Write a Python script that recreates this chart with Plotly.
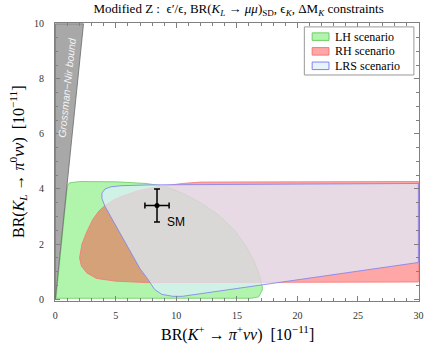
import plotly.graph_objects as go

# LH scenario region (green)
lh_x = [0.05, 0.98, 1.15, 2.0, 5.0, 7.5, 9.0, 10.5, 12.0, 13.5, 14.8, 15.8, 16.5, 16.95, 17.1, 17.1, 16.8, 16.2, 0.05]
lh_y = [0.03, 4.10, 4.22, 4.27, 4.26, 4.20, 4.10, 3.85, 3.50, 3.05, 2.50, 1.90, 1.30, 0.75, 0.45, 0.33, 0.08, 0.03, 0.03]

# RH scenario region (red)
rh_x = [2.0, 2.2, 2.6, 3.1, 3.6, 4.1, 4.8, 5.6, 6.7, 7.8, 9.1, 10.5, 12.0, 20.0, 30.0, 30.0, 20.0, 10.0, 7.5, 5.0, 3.4, 2.6, 2.15, 2.0]
rh_y = [1.5, 2.0, 2.45, 2.9, 3.2, 3.4, 3.6, 3.75, 3.92, 4.03, 4.12, 4.2, 4.25, 4.27, 4.27, 0.62, 0.6, 0.58, 0.6, 0.65, 0.75, 0.95, 1.2, 1.5]

# LRS scenario region (blue)
lrs_x = [4.6, 5.5, 8.0, 15.0, 30.0, 30.0, 17.1, 12.0, 10.5, 9.7, 8.8, 8.2, 7.6, 7.0, 4.1, 3.85, 3.85, 4.1, 4.6]
lrs_y = [4.08, 4.12, 4.15, 4.17, 4.20, 1.33, 0.51, 0.19, 0.10, 0.10, 0.17, 0.35, 0.75, 1.10, 3.37, 3.65, 3.85, 4.00, 4.08]

# Grossman-Nir bound: BR(KL) < 4.3 BR(K+)
gn_x = [0.0, 0.0, 10 / 4.3, 0.0]
gn_y = [0.0, 10.0, 10.0, 0.0]

# Standard Model point
sm_x, sm_y = [8.4], [3.4]
sm_ex, sm_ey = [1.0], [0.6]

scenarios = ["LH scenario", "RH scenario", "LRS scenario"]
fills = ["rgba(100,235,90,0.5)", "rgba(255,60,60,0.45)", "rgba(221,240,253,0.7)"]
edges = ["rgb(110,205,100)", "rgb(245,120,120)", "rgb(130,130,240)"]

serif = "Liberation Serif"

fig = go.Figure()
for xs, ys, name, fc, lc in zip([lh_x, rh_x, lrs_x], [lh_y, rh_y, lrs_y], scenarios, fills, edges):
    fig.add_trace(go.Scatter(x=xs, y=ys, fill="toself", mode="lines", name=name, showlegend=False,
                             fillcolor=fc, line=dict(color=lc, width=0.85), hoverinfo="skip"))
fig.add_trace(go.Scatter(x=gn_x, y=gn_y, fill="toself", mode="lines", showlegend=False,
                         fillcolor="#a8a8a8", line=dict(color="#6a6a6a", width=0.8), hoverinfo="skip"))
fig.add_trace(go.Scatter(x=sm_x, y=sm_y, mode="markers", showlegend=False,
                         marker=dict(color="black", size=5),
                         error_x=dict(type="data", array=sm_ex, color="black", thickness=1.5, width=3),
                         error_y=dict(type="data", array=sm_ey, color="black", thickness=1.5, width=3)))

fig.add_annotation(x=sm_x[0] + 1.55, y=sm_y[0] - 0.6, text="SM", showarrow=False,
                   font=dict(family="Liberation Sans", size=12, color="black"))
fig.add_annotation(x=0.95, y=7.7, text="<i>Grossman−Nir bound</i>", showarrow=False, textangle=-84,
                   font=dict(family="Liberation Sans", size=10.5, color="#f4f4f4"))

# axis titles
fig.add_annotation(xref="paper", yref="paper", x=0.5, y=0, yshift=-32, xanchor="center", yanchor="middle",
                   showarrow=False,
                   text="BR(<i>K</i><sup>+</sup> → <i>π</i><sup>+</sup><i>νν</i>)  [10<sup>−11</sup>]",
                   font=dict(family=serif, size=16, color="black"))
fig.add_annotation(xref="paper", yref="paper", x=0, y=0.5, xshift=-37, xanchor="center", yanchor="middle",
                   showarrow=False, textangle=-90,
                   text="BR(<i>K</i><sub><i>L</i></sub> → <i>π</i><sup>0</sup><i>νν</i>)  [10<sup>−11</sup>]",
                   font=dict(family=serif, size=16, color="black"))

# legend box drawn by hand (Mathematica-style compact legend)
fig.add_shape(type="rect", xref="paper", yref="paper", x0=0.685, x1=0.986, y0=0.813, y1=0.986,
              line=dict(color="#999", width=1), fillcolor="white", layer="above")
row_y = [0.951, 0.898, 0.846]
for ry, name, fc, lc in zip(row_y, scenarios, fills, edges):
    fig.add_shape(type="rect", xref="paper", yref="paper", x0=0.7065, x1=0.7527, y0=ry - 0.0135, y1=ry + 0.0135,
                  fillcolor=fc, line=dict(color=lc, width=1), layer="above")
    fig.add_annotation(xref="paper", yref="paper", x=0.7636, y=ry, xanchor="left", yanchor="middle",
                       text=name, showarrow=False, font=dict(family=serif, size=12, color="black"))

axis_common = dict(showgrid=False, zeroline=False, showline=True, linecolor="#808080", linewidth=1,
                   mirror="ticks", ticks="inside", ticklen=5, tickcolor="#808080",
                   tickfont=dict(family=serif, size=10, color="#333"))
fig.update_xaxes(range=[-0.03, 30.05], tickvals=[0, 5, 10, 15, 20, 25, 30], ticklabelstandoff=5,
                 minor=dict(dtick=1, ticks="inside", ticklen=3, tickcolor="#808080"), **axis_common)
fig.update_yaxes(range=[-0.07, 10.03], tickvals=[0, 2, 4, 6, 8, 10], ticklabelstandoff=8,
                 minor=dict(dtick=0.5, ticks="inside", ticklen=3, tickcolor="#808080"), **axis_common)

fig.update_layout(
    width=430, height=353,
    margin=dict(l=55, r=7, t=23, b=52),
    plot_bgcolor="white", paper_bgcolor="white",
    showlegend=False,
    title=dict(text="Modified Z :  ϵ′/ϵ, BR(<i>K<sub>L</sub></i> → <i>μμ</i>)<sub>SD</sub>, ϵ<sub><i>K</i></sub>, ΔM<sub><i>K</i></sub> constraints",
               x=0.555, xanchor="center", y=0.975, yanchor="middle",
               font=dict(family=serif, size=13, color="black")),
)

fig.write_html("out.html", config={"displayModeBar": False},
               post_script="document.body.style.margin='0';")
